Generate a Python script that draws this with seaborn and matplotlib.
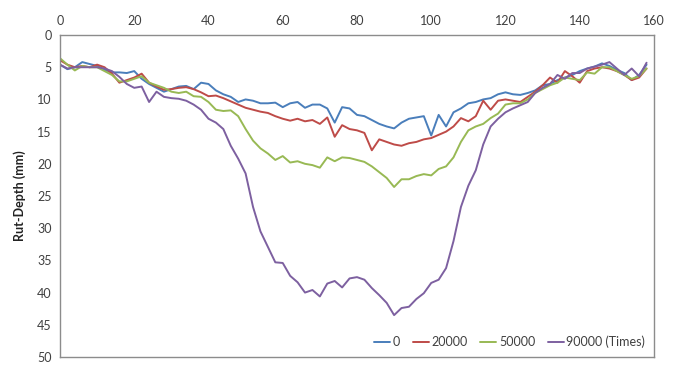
import numpy as np
import pandas as pd
import matplotlib
matplotlib.use("Agg")
import matplotlib.pyplot as plt
import seaborn as sns

x_pos = list(range(0, 160, 2))

rut_0 = [4.6, 5.3, 5.0, 4.2, 4.5, 4.8, 5.4, 5.8, 5.8, 5.9,
         5.6, 6.8, 7.6, 8.2, 8.8, 8.4, 8.0, 7.9, 8.4, 7.4,
         7.6, 8.6, 9.2, 9.6, 10.4, 10.0, 10.2, 10.6, 10.6, 10.5,
         11.2, 10.6, 10.4, 11.3, 10.8, 10.8, 11.4, 13.6, 11.2, 11.4,
         12.4, 12.6, 13.2, 13.8, 14.2, 14.5, 13.6, 13.0, 12.8, 12.6,
         15.6, 12.4, 14.2, 12.0, 11.4, 10.6, 10.4, 10.0, 9.8, 9.2,
         8.9, 9.2, 9.3, 9.0, 8.6, 7.8, 7.6, 7.0, 6.6, 6.2,
         5.6, 5.2, 4.9, 4.4, 4.8, 5.4, 5.9, 7.0, 6.2, 4.6]

rut_20000 = [3.9, 4.6, 5.0, 4.8, 5.0, 4.6, 5.0, 6.0, 7.4, 7.0,
             6.6, 6.0, 7.4, 8.0, 8.5, 8.4, 8.2, 8.1, 8.4, 8.9,
             9.5, 9.4, 9.8, 10.3, 10.8, 11.3, 11.6, 11.9, 12.1, 12.6,
             13.0, 13.3, 13.0, 13.4, 13.2, 13.8, 12.8, 15.8, 14.0, 14.6,
             14.8, 15.2, 17.9, 16.2, 16.6, 17.0, 17.2, 16.8, 16.6, 16.2,
             16.0, 15.5, 15.0, 14.2, 12.9, 13.4, 12.6, 10.2, 11.6, 10.2,
             10.0, 10.2, 10.4, 9.6, 8.8, 7.8, 6.6, 7.4, 5.6, 6.4,
             7.4, 5.6, 5.2, 5.0, 5.2, 5.6, 6.2, 7.0, 6.6, 5.2]

rut_50000 = [3.6, 4.6, 5.5, 4.8, 5.0, 5.0, 5.6, 6.2, 7.2, 7.2,
             6.8, 6.4, 7.4, 7.8, 8.2, 8.8, 9.0, 8.8, 9.5, 9.6,
             10.4, 11.6, 11.8, 11.7, 12.6, 14.6, 16.4, 17.6, 18.4, 19.4,
             18.8, 19.8, 19.6, 20.0, 20.2, 20.6, 19.0, 19.6, 19.0, 19.1,
             19.4, 19.7, 20.4, 21.3, 22.2, 23.6, 22.4, 22.4, 21.9, 21.6,
             21.8, 20.8, 20.4, 19.0, 16.6, 14.8, 14.2, 13.8, 12.9, 12.2,
             10.8, 10.6, 10.6, 10.0, 9.0, 8.4, 7.8, 7.4, 6.6, 6.8,
             7.0, 5.8, 6.0, 5.0, 5.0, 5.6, 6.2, 6.8, 6.4, 5.2]

rut_90000 = [4.6, 5.2, 5.0, 5.0, 5.0, 5.0, 5.2, 5.6, 6.5, 7.6,
             8.2, 8.0, 10.4, 8.8, 9.6, 9.8, 9.9, 10.2, 10.8, 11.6,
             13.0, 13.6, 14.6, 17.2, 19.2, 21.5, 26.7, 30.5, 32.9, 35.3,
             35.4, 37.4, 38.4, 40.0, 39.6, 40.6, 38.6, 38.2, 39.2, 37.8,
             37.6, 38.0, 39.3, 40.4, 41.6, 43.5, 42.4, 42.2, 41.0, 40.1,
             38.5, 38.0, 36.2, 32.0, 26.7, 23.4, 21.0, 17.0, 14.2, 13.0,
             12.0, 11.4, 10.9, 10.4, 9.0, 8.2, 7.6, 6.2, 6.8, 5.9,
             5.9, 5.2, 4.9, 4.6, 4.2, 5.2, 6.2, 5.2, 6.4, 4.3]

series_labels = ["0", "20000", "50000", "90000 (Times)"]
series_values = [rut_0, rut_20000, rut_50000, rut_90000]
series_colors = ["#4A7EBB", "#BE4B48", "#98B954", "#7D60A0"]

x_ticks = [0, 20, 40, 60, 80, 100, 120, 140, 160]
y_ticks = [0, 5, 10, 15, 20, 25, 30, 35, 40, 45, 50]

frames = []
for lab, vals in zip(series_labels, series_values):
    frames.append(pd.DataFrame({"x": x_pos, "depth": vals, "series": lab}))
df = pd.concat(frames, ignore_index=True)

sns.set_theme(style="white")
plt.rcParams["font.family"] = ["Lato", "DejaVu Sans"]

fig = plt.figure(figsize=(6.77, 3.65), dpi=100)
ax = fig.add_axes([0.0886, 0.022, 0.8774, 0.882])

sns.lineplot(data=df, x="x", y="depth", hue="series", hue_order=series_labels,
             palette=dict(zip(series_labels, series_colors)), linewidth=1.4,
             ax=ax, estimator=None, sort=False)

ax.set_xlim(0, 160)
ax.set_ylim(50, 0)
ax.set_xticks(x_ticks)
ax.set_yticks(y_ticks)
ax.xaxis.tick_top()
ax.tick_params(axis="both", length=0, labelsize=9, colors="#404040", pad=6)
ax.set_xlabel("")
ax.set_ylabel("Rut-Depth (mm)", fontsize=9, fontweight="bold", color="#222222", labelpad=8)
for s in ax.spines.values():
    s.set_color("#8C8C8C")
    s.set_linewidth(1.0)

leg = ax.legend(loc="lower right", ncol=4, frameon=False, fontsize=9,
                handlelength=1.3, handletextpad=0.2, columnspacing=1.0,
                borderaxespad=0.3)
for t in leg.get_texts():
    t.set_color("#404040")

fig.savefig("out.png", dpi=100)
